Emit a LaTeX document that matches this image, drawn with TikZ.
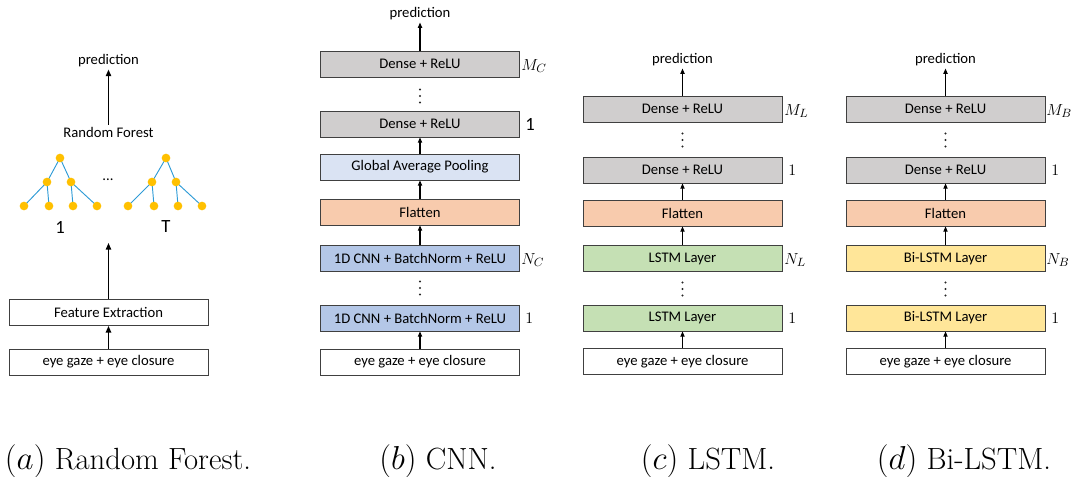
\documentclass[tikz,border=0pt]{standalone}
\usepackage{fontspec}
\newfontfamily\carl{Carlito}
\usetikzlibrary{arrows.meta}
\definecolor{grayfill}{HTML}{D0CECE}
\definecolor{gapfill}{HTML}{DAE3F3}
\definecolor{flatfill}{HTML}{F8CBAD}
\definecolor{cnnfill}{HTML}{B4C7E7}
\definecolor{lstmfill}{HTML}{C5E0B4}
\definecolor{bifill}{HTML}{FFE699}
\definecolor{treeline}{HTML}{2E9BD6}
\definecolor{treedot}{HTML}{FFC000}
\begin{document}
\begin{tikzpicture}[x=0.75pt,y=-0.75pt,
  box/.style={draw=black!75, line width=0.6pt, minimum width=149.25pt, minimum height=19.5pt, inner sep=0pt, font=\carl\fontsize{11}{13}\selectfont},
  txt/.style={font=\carl\fontsize{11}{13}\selectfont, inner sep=1.5pt},
  arr/.style={-{Triangle[length=4pt,width=3.2pt]}, line width=0.8pt},
  arrb/.style={-{Triangle[length=5pt,width=4pt]}, line width=1.1pt},
  lab/.style={anchor=west, inner sep=0pt, font=\fontsize{12.5}{15}\selectfont},
  vdot/.style={fill=black!85},
  leaf/.style={circle, fill=treedot, minimum size=6.5pt, inner sep=0pt},
  tedge/.style={draw=treeline, line width=0.7pt},
  captext/.style={anchor=base, inner sep=0pt, font=\fontsize{23}{27}\selectfont}]
\useasboundingbox (0,0) rectangle (1073,477);
\newcommand\vdotsat[2]{\fill[vdot] (#1,#2-6.5) circle (1.1) (#1,#2) circle (1.1) (#1,#2+6.5) circle (1.1);}

% ---------- (a) Random Forest ----------
\node[box] (ain) at (108.5,362) {eye gaze + eye closure};
\node[box] (afe) at (108.5,312.5) {Feature Extraction};
\coordinate (atree) at (108.5,243);
\node[txt] (arf) at (108.5,132) {Random Forest};
\node[txt] (apred) at (108.5,61) {prediction};
\draw[arrb] (ain) -- (afe);
\draw[arrb] (afe) -- (atree);
\draw[arrb] (arf) -- (apred);
% tree coordinates
\coordinate (r1) at (60,158);
\coordinate (m1a) at (47,182);
\coordinate (m1b) at (71,182);
\coordinate (l1a) at (24,206);
\coordinate (l1b) at (49,206);
\coordinate (l1c) at (73,206);
\coordinate (l1d) at (97,206);
\coordinate (r2) at (166,158);
\coordinate (m2a) at (152,182);
\coordinate (m2b) at (176,182);
\coordinate (l2a) at (128,206);
\coordinate (l2b) at (154,206);
\coordinate (l2c) at (178,206);
\coordinate (l2d) at (202,206);
\draw[tedge] (r1) -- (m1a) (r1) -- (m1b) (m1a) -- (l1a) (m1a) -- (l1b) (m1b) -- (l1c) (m1b) -- (l1d);
\draw[tedge] (r2) -- (m2a) (r2) -- (m2b) (m2a) -- (l2a) (m2a) -- (l2b) (m2b) -- (l2c) (m2b) -- (l2d);
\foreach \p in {r1,m1a,m1b,l1a,l1b,l1c,l1d,r2,m2a,m2b,l2a,l2b,l2c,l2d}
  \node[leaf] (n\p) at (\p) {};
\node[txt] (adots) at (108,180) {...};
\node[txt, font=\carl\fontsize{14}{16}\selectfont] (aone) at (60,227) {1};
\node[txt, font=\carl\fontsize{14}{16}\selectfont] (aT) at (166,227) {T};

% ---------- (b) CNN ----------
\node[box] (bin) at (420,362) {eye gaze + eye closure};
\node[box, fill=cnnfill] (bc1) at (420,318) {1D CNN + BatchNorm + ReLU};
\vdotsat{420}{288}
\node[box, fill=cnnfill] (bcn) at (420,258) {1D CNN + BatchNorm + ReLU};
\node[box, fill=flatfill] (bfl) at (420,212) {Flatten};
\node[box, fill=gapfill] (bgap) at (420,167) {Global Average Pooling};
\node[box, fill=grayfill] (bd1) at (420,124) {Dense + ReLU};
\vdotsat{420}{96}
\node[box, fill=grayfill] (bdm) at (420,64) {Dense + ReLU};
\node[txt] (bpred) at (420,14) {prediction};
\draw[arr] (bin) -- (bc1);
\draw[arr] (bcn) -- (bfl);
\draw[arr] (bfl) -- (bgap);
\draw[arr] (bgap) -- (bd1);
\draw[arr] (bdm) -- (bpred);
\node[lab] (blm) at (521,66) {$M_C$};
\node[lab, font=\carl\fontsize{14}{16}\selectfont] (bl1) at (525,124) {1};
\node[lab] (bln) at (521,260) {$N_C$};
\node[lab] (bl2) at (525,318) {$1$};

% ---------- (c) LSTM ----------
\node[box] (cin) at (682.5,361.5) {eye gaze + eye closure};
\node[box, fill=lstmfill] (cl1) at (682.5,318) {LSTM Layer};
\vdotsat{682.5}{289}
\node[box, fill=lstmfill] (cln) at (682.5,258.5) {LSTM Layer};
\node[box, fill=flatfill] (cfl) at (682.5,213) {Flatten};
\node[box, fill=grayfill] (cd1) at (682.5,170) {Dense + ReLU};
\vdotsat{682.5}{140}
\node[box, fill=grayfill] (cdm) at (682.5,109) {Dense + ReLU};
\node[txt] (cpred) at (682.5,60) {prediction};
\draw[arr] (cin) -- (cl1);
\draw[arr] (cln) -- (cfl);
\draw[arr] (cfl) -- (cd1);
\draw[arr] (cdm) -- (cpred);
\node[lab] (clm) at (784,111) {$M_L$};
\node[lab] (cl1l) at (788,170) {$1$};
\node[lab] (cln2) at (784,260) {$N_L$};
\node[lab] (cl2l) at (788,318) {$1$};

% ---------- (d) Bi-LSTM ----------
\node[box] (din) at (945.5,361.5) {eye gaze + eye closure};
\node[box, fill=bifill] (dl1) at (945.5,318) {Bi-LSTM Layer};
\vdotsat{945.5}{289}
\node[box, fill=bifill] (dln) at (945.5,258.5) {Bi-LSTM Layer};
\node[box, fill=flatfill] (dfl) at (945.5,213) {Flatten};
\node[box, fill=grayfill] (dd1) at (945.5,170) {Dense + ReLU};
\vdotsat{945.5}{140}
\node[box, fill=grayfill] (ddm) at (945.5,109) {Dense + ReLU};
\node[txt] (dpred) at (945.5,60) {prediction};
\draw[arr] (din) -- (dl1);
\draw[arr] (dln) -- (dfl);
\draw[arr] (dfl) -- (dd1);
\draw[arr] (ddm) -- (dpred);
\node[lab] (dlm) at (1046,111) {$M_B$};
\node[lab] (dl1l) at (1051,170) {$1$};
\node[lab] (dln2) at (1046,260) {$N_B$};
\node[lab] (dl2l) at (1051,318) {$1$};

% ---------- captions ----------
\node[captext] (capa) at (128,469) {$(a)$ Random Forest.};
\node[captext] (capb) at (438,469) {$(b)$ CNN.};
\node[captext] (capc) at (708,469) {$(c)$ LSTM.};
\node[captext] (capd) at (964,469) {$(d)$ Bi-LSTM.};
\end{tikzpicture}
\end{document}
